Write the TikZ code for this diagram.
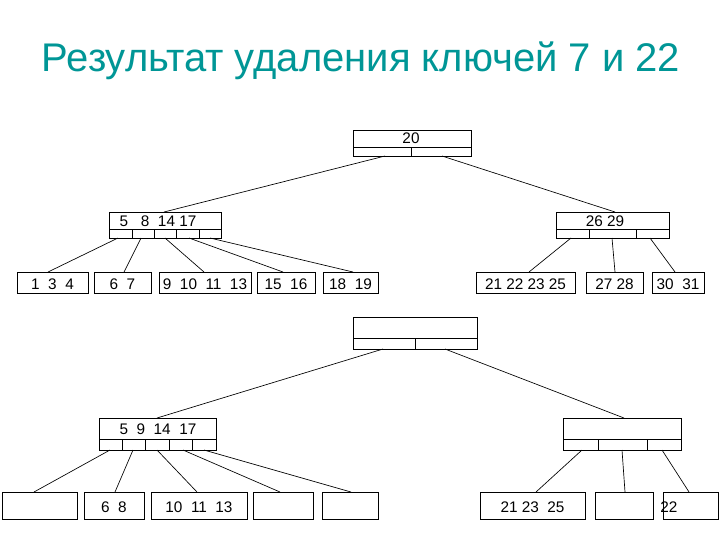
\documentclass[tikz,border=0pt]{standalone}
\usepackage{fontspec}
\setmainfont{Liberation Sans}
\definecolor{ttl}{RGB}{0,150,150}
\begin{document}
\begin{tikzpicture}[x=0.75pt,y=-0.75pt,
  box/.style={draw=black,line width=0.6pt},
  lnk/.style={draw=black,line width=0.5pt},
  lbl/.style={font=\fontsize{11.5}{13}\selectfont,inner sep=0pt}]
\useasboundingbox (0,0) rectangle (720,540);
\node[font=\fontsize{30}{34}\selectfont,text=ttl] (title) at (361,61) {Результат удаления ключей 7 и 22};
% ---------- top tree ----------
\draw[box] (353,130) rectangle (471,156); \draw[box] (353,147)--(471,147) (411,147)--(411,156);
\node[lbl] (r1) at (411,138) {20};
\draw[box] (109,212) rectangle (221,238); \draw[box] (109,229)--(221,229);
\foreach \x in {132,154,176,199} \draw[box] (\x,229)--(\x,238);
\node[lbl] (l1) at (158,221) {5\ \ \ 8\ \ 14\ 17};
\draw[box] (556,212) rectangle (669,238); \draw[box] (556,229)--(669,229);
\foreach \x in {589,636} \draw[box] (\x,229)--(\x,238);
\node[lbl] (rr1) at (605,221) {26 29};
\foreach \a/\b/\t in {17/88/{1\ \ 3\ \ 4},94/151/{6\ \ 7},159/251/{9\ \ 10\ \ 11\ \ 13},257/315/{15\ \ 16},323/378/{18\ \ 19},476/575/{21 22 23 25},586/643/{27 28},652/704/{30\ \ 31}}{
  \draw[box] (\a,272) rectangle (\b,293);
  \node[lbl] at ({(\a+\b)/2},284) {\t};}
\foreach \x/\y/\u/\v in {385/156/164/212,442/156/615/212,118/238/48/272,141/238/124/272,165/238/204/272,189/238/283/272,210/238/353/272,571/238/529/272,612/238/615/272,650/238/675/272}
  \draw[lnk] (\x,\y)--(\u,\v);
% ---------- bottom tree ----------
\draw[box] (353,317) rectangle (477,349); \draw[box] (353,338)--(477,338) (415,338)--(415,349);
\draw[box] (99,418) rectangle (216,450); \draw[box] (99,439)--(216,439);
\foreach \x in {122,145,169,192} \draw[box] (\x,439)--(\x,450);
\node[lbl] (l2) at (158,429) {5\ \ 9\ \ 14\ \ 17};
\draw[box] (563,418) rectangle (681,450); \draw[box] (563,439)--(681,439);
\foreach \x in {598,647} \draw[box] (\x,439)--(\x,450);
\foreach \a/\b/\t in {2/77/{},84/144/{6\ \ 8},151/247/{10\ \ 11\ \ 13},253/313/{},322/378/{},480/585/{21 23\ \ 25},595/653/{}}{
  \draw[box] (\a,492) rectangle (\b,519);
  \node[lbl] at ({(\a+\b)/2},507) {\t};}
\draw[box] (663,492) rectangle (718,519);
\node[lbl,anchor=west] (k22) at (660,507) {22};
\foreach \x/\y/\u/\v in {383/349/157/418,445/349/624/418,110/450/34/492,133/450/115/492,157/450/197/492,183/450/280/492,204/450/351/492,582/450/536/492,622/450/625/492,662/450/689/492}
  \draw[lnk] (\x,\y)--(\u,\v);
\end{tikzpicture}
\end{document}
